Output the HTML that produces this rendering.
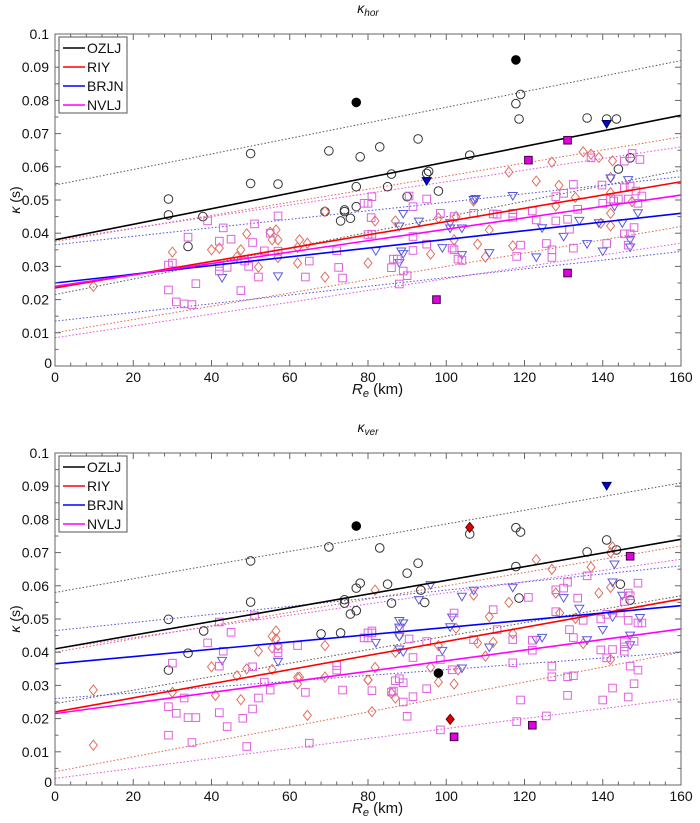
<!DOCTYPE html>
<html><head><meta charset="utf-8">
<style>
html,body{margin:0;padding:0;background:#fff;width:700px;height:823px;overflow:hidden}
svg text{font-family:"Liberation Sans",sans-serif;fill:#111}
</style></head>
<body>
<svg id="chart" width="700" height="823" viewBox="0 0 700 823" xmlns="http://www.w3.org/2000/svg"></svg>
<script>
// ---------- data ----------
const xTicks=[0,20,40,60,80,100,120,140,160];
const yTicks=[0,0.01,0.02,0.03,0.04,0.05,0.06,0.07,0.08,0.09,0.1];
const yTickLabels=["0","0.01","0.02","0.03","0.04","0.05","0.06","0.07","0.08","0.09","0.1"];
const seriesNames=["OZLJ","RIY","BRJN","NVLJ"];

// fit lines [kappa at R=0, kappa at R=160]
const horFit={OZLJ:[0.038,0.0755],RIY:[0.0235,0.0555],BRJN:[0.025,0.046],NVLJ:[0.024,0.0515]};
const horUpper={OZLJ:[0.0545,0.092],RIY:[0.0375,0.069],BRJN:[0.0365,0.057],NVLJ:[0.038,0.066]};
const horLower={OZLJ:[0.0215,0.059],RIY:[0.010,0.042],BRJN:[0.0135,0.0345],NVLJ:[0.0085,0.037]};
const verFit={OZLJ:[0.041,0.074],RIY:[0.022,0.056],BRJN:[0.0365,0.054],NVLJ:[0.0215,0.047]};
const verUpper={OZLJ:[0.058,0.091],RIY:[0.040,0.072],BRJN:[0.0465,0.066],NVLJ:[0.041,0.068]};
const verLower={OZLJ:[0.0245,0.057],RIY:[0.004,0.040],BRJN:[0.026,0.040],NVLJ:[0.002,0.026]};

// horizontal points [R, kappa]
const horOZLJ=[[29,0.0503],[29,0.0455],[34,0.036],[37.8,0.045],[50,0.064],[50,0.055],[57,0.0548],[70,0.0648],[78,0.063],[77,0.054],[77,0.048],[73,0.0437],[74,0.047],[74,0.0465],[75.5,0.0445],[69,0.0465],[83,0.066],[92.8,0.0684],[86,0.0578],[95,0.058],[95.5,0.0586],[85,0.054],[98,0.0527],[106,0.0635],[117.8,0.079],[119,0.0818],[118.6,0.0744],[136,0.0747],[141,0.0744],[143.5,0.0744],[147,0.0627],[144,0.0593],[90,0.051]];
const horOZLJfilled=[[77,0.0794],[117.8,0.0922]];
const horBRJN=[[42.7,0.0265],[57,0.027],[89,0.0458],[88,0.042],[82,0.0346],[88.5,0.0345],[89,0.0337],[88,0.031],[93,0.0435],[99,0.0355],[101,0.0414],[101,0.043],[104,0.0414],[104,0.0334],[107,0.05],[107.5,0.0503],[111,0.034],[117,0.0512],[124.5,0.0415],[123,0.0327],[130,0.0389],[134,0.0437],[136,0.0367],[139,0.043],[140,0.0345],[142,0.0565],[143,0.048],[145,0.043],[146.5,0.056],[147,0.038],[147,0.0357],[149,0.046]];
const horBRJNfilled=[[95,0.0557],[141,0.0729]];
const horRIY=[[9.8,0.024],[30,0.0343],[40,0.035],[42,0.0355],[49,0.0398],[47.5,0.035],[46.5,0.0329],[52,0.0298],[55,0.0403],[55.5,0.038],[56.5,0.041],[57,0.038],[57,0.0327],[62,0.031],[62.5,0.038],[62,0.0357],[64.5,0.037],[69,0.0268],[69,0.0465],[80,0.031],[81.8,0.0437],[87,0.0437],[96,0.0337],[98,0.0446],[102,0.038],[102.5,0.045],[107,0.0497],[108,0.0367],[110,0.0328],[111,0.041],[116,0.0584],[117,0.0362],[123,0.0557],[127,0.0614],[128,0.0482],[128.8,0.0544],[133,0.0508],[135,0.0645],[137,0.0638],[139,0.0628],[139.5,0.043],[142,0.0568],[142,0.0522],[142,0.0422],[142.5,0.0618],[142,0.046],[147.5,0.0495]];
const horRIYfilled=[];
const horNVLJ=[[29,0.0229],[29,0.0304],[30,0.031],[31,0.0193],[33,0.0187],[35,0.0185],[34,0.0388],[36,0.0248],[39,0.0437],[42,0.03],[42,0.0286],[43,0.0416],[42,0.0376],[44,0.0297],[45,0.0382],[47.5,0.0227],[48.5,0.0316],[49.5,0.03],[50.5,0.0372],[51,0.0428],[52,0.0268],[53.5,0.0347],[55,0.04],[57,0.0452],[57,0.0346],[64,0.0268],[65,0.0316],[72,0.0347],[72.5,0.0297],[73.5,0.0265],[80,0.049],[80.8,0.0447],[81,0.0397],[79,0.049],[81,0.051],[80,0.0396],[86.5,0.0322],[87.5,0.0322],[86,0.0296],[88,0.0247],[89,0.0286],[90,0.0272],[90.5,0.0512],[91.5,0.048],[91.5,0.039],[91.5,0.0348],[95,0.0503],[95,0.0367],[98.5,0.046],[101.5,0.0355],[102,0.035],[103,0.0322],[104,0.0318],[102,0.045],[107,0.046],[112,0.0458],[113,0.0457],[117,0.046],[117,0.0448],[118,0.033],[119,0.0364],[122,0.0467],[123,0.044],[125.6,0.0369],[127,0.035],[127,0.0327],[128,0.051],[128,0.0437],[130,0.052],[131,0.0442],[132.5,0.0547],[132.5,0.0355],[131.5,0.0412],[133.6,0.0472],[137,0.0627],[139.8,0.0545],[140,0.049],[141,0.0369],[142,0.0503],[142.8,0.0497],[144,0.0503],[145.5,0.0617],[147.5,0.064],[149.5,0.0622],[145.5,0.0537],[147,0.0542],[146.5,0.0503],[148.5,0.0527],[150,0.0512],[149,0.049],[148,0.0417],[145.5,0.0398],[147,0.0398],[146.5,0.0364]];
const horNVLJfilled=[[97.5,0.020],[131,0.068],[121,0.062],[131,0.028]];

// vertical points [R, kappa]
const verOZLJ=[[29,0.0499],[29,0.0346],[34,0.0397],[38,0.0464],[50,0.0675],[50,0.0551],[70,0.0717],[68,0.0455],[73,0.0458],[74,0.0548],[74,0.0558],[75.5,0.0515],[77,0.0525],[77,0.0593],[78,0.0608],[83,0.0714],[85,0.0605],[86,0.0548],[90,0.0638],[92.8,0.0668],[93.5,0.0587],[94.5,0.055],[106,0.0756],[117.8,0.0775],[119,0.0762],[117.8,0.0658],[118.6,0.0563],[136,0.0702],[141,0.0738],[143.5,0.0708],[144.5,0.0605],[147,0.0557]];
const verOZLJfilled=[[77,0.078],[98,0.0337]];
const verBRJN=[[42.7,0.0374],[57,0.0371],[88,0.0494],[89,0.0487],[88,0.0474],[88,0.0446],[82,0.0428],[88,0.0408],[89,0.04],[93,0.0557],[96,0.0602],[99,0.0404],[101,0.0475],[101.5,0.0504],[104,0.0351],[104,0.0567],[107,0.0585],[111,0.0414],[117,0.0594],[123,0.0437],[124.5,0.0443],[130,0.0563],[134,0.0531],[136,0.0436],[140,0.0467],[142.5,0.061],[143,0.0664],[142.5,0.0505],[145,0.057],[147,0.045],[147,0.0421],[149.5,0.0503]];
const verBRJNfilled=[[141,0.0901]];
const verRIY=[[9.8,0.0286],[9.8,0.012],[30,0.0279],[40,0.0356],[41,0.027],[46.5,0.0329],[47.5,0.0257],[49,0.035],[52,0.0403],[55.5,0.0448],[55.5,0.0413],[55.5,0.0348],[56.5,0.0464],[56.5,0.044],[57,0.042],[62,0.0304],[62,0.0324],[62.5,0.0325],[64.5,0.021],[69,0.042],[69,0.0325],[80,0.0317],[81.8,0.0587],[80,0.0316],[81.8,0.0354],[86,0.0276],[87,0.0262],[81,0.0221],[87,0.04],[88,0.045],[96,0.0355],[98,0.042],[98,0.031],[102,0.0304],[102.5,0.0472],[103,0.0347],[107,0.0572],[108,0.0428],[110,0.0388],[111,0.0507],[112,0.043],[116,0.055],[117,0.0456],[123,0.0679],[127,0.065],[128,0.0578],[129,0.0518],[133,0.0502],[135,0.0426],[137,0.0656],[139,0.0578],[142,0.0595],[142,0.07],[142.5,0.0717],[142,0.0378]];
const verRIYfilled=[[106,0.0776],[101,0.0198]];
const verNVLJ=[[29,0.0236],[29,0.015],[30,0.0367],[31,0.0216],[33,0.0262],[34,0.0203],[36,0.0203],[35,0.0128],[39,0.0428],[42,0.0491],[42,0.0358],[42,0.0218],[43,0.0403],[44,0.0176],[45,0.046],[48,0.0201],[49,0.0116],[50.5,0.0356],[50.5,0.0229],[51,0.051],[52,0.0262],[53.5,0.031],[55,0.0286],[57,0.0398],[57,0.0411],[62,0.042],[64,0.0279],[65,0.0126],[72,0.0346],[72,0.036],[73.5,0.0286],[80,0.0443],[81,0.0458],[81,0.0284],[79,0.0443],[80,0.0458],[81,0.0464],[86.5,0.0283],[86,0.028],[87,0.0314],[88,0.032],[88,0.0468],[89,0.0308],[89,0.025],[90,0.0207],[90.5,0.044],[91.5,0.0384],[91.5,0.0266],[95,0.0432],[95,0.029],[98.5,0.0378],[98.5,0.0166],[101.5,0.0347],[102,0.0518],[107,0.0438],[112,0.0528],[113,0.0468],[117,0.0438],[117,0.0368],[118,0.0191],[119,0.0256],[121,0.0565],[122,0.0436],[122,0.0406],[125.6,0.0208],[127,0.0358],[127,0.0326],[128,0.0588],[128,0.0522],[130,0.0593],[131,0.0611],[131,0.0326],[131,0.027],[131.5,0.0468],[132.5,0.0444],[132.5,0.0329],[133.6,0.0563],[135,0.0496],[136,0.063],[139.5,0.05],[139.5,0.0407],[140,0.0256],[141,0.0514],[141,0.0383],[142.5,0.0408],[142.5,0.0292],[144.5,0.0518],[145.5,0.0553],[145.5,0.0431],[145.5,0.0416],[145.5,0.0403],[146.5,0.0496],[146.5,0.0265],[146.5,0.0578],[147,0.057],[147,0.0358],[148,0.0433],[148,0.0305],[149,0.0346],[149,0.0488],[150,0.0488],[149,0.0608]];
const verNVLJfilled=[[147,0.0689],[102,0.0145],[122,0.018]];

// ---------- drawing ----------
const NS="http://www.w3.org/2000/svg";
const svg=document.getElementById('chart');
function mk(tag,attrs,parent){const e=document.createElementNS(NS,tag);for(const k in attrs)e.setAttribute(k,attrs[k]);(parent||svg).appendChild(e);return e;}

const lineCol={OZLJ:"#000",RIY:"#ff0000",BRJN:"#0000ff",NVLJ:"#ff00ff"};
const dotCol={OZLJ:"#555",RIY:"#e0604a",BRJN:"#5050e0",NVLJ:"#e050e0"};
const mkCol={OZLJ:"#333",RIY:"#e07060",BRJN:"#5a5ae0",NVLJ:"#e060e0"};
const fillCol={OZLJ:"#000",RIY:"#e00000",BRJN:"#0000d0",NVLJ:"#e000e0"};

function marker(g,name,cx,cy,filled){
  const stroke=filled?(name==="OZLJ"?"#000":"#400040"):mkCol[name];
  const fill=filled?fillCol[name]:"none";
  let el;
  if(name==="OZLJ"){el=mk('circle',{cx:cx,cy:cy,r:4.3,fill:fill,stroke:stroke,'stroke-width':1},g);}
  else if(name==="RIY"){el=mk('polygon',{points:`${cx},${cy-5} ${cx+4},${cy} ${cx},${cy+5} ${cx-4},${cy}`,fill:fill,stroke:filled?"#600":stroke,'stroke-width':1},g);}
  else if(name==="BRJN"){el=mk('polygon',{points:`${cx-4.5},${cy-3.5} ${cx+4.5},${cy-3.5} ${cx},${cy+4}`,fill:fill,stroke:filled?"#000060":stroke,'stroke-width':1},g);}
  else {el=mk('rect',{x:cx-3.8,y:cy-3.8,width:7.6,height:7.6,fill:fill,stroke:stroke,'stroke-width':1},g);}
  
  
}

function panel(p){
  const L=55,R=681,T=p.top,B=p.top+332;
  const X=v=>L+(v/160)*(R-L);
  const Y=v=>B-(v/0.1)*(B-T);
  const g=mk('g',{});
  
  
  // title
  const t=mk('text',{x:368,y:T-21,'font-size':14,'text-anchor':'middle','font-style':'italic'},g);
  
  
  t.innerHTML='κ<tspan font-size="10" dy="3">'+p.sub+'</tspan>';
  // clip
  const cp=mk('clipPath',{id:'clip'+p.id},g);mk('rect',{x:L,y:T,width:R-L,height:B-T},cp);
  const pg=mk('g',{'clip-path':'url(#clip'+p.id+')'},g);
  // band + fit lines
  seriesNames.forEach(n=>{
    [p.upper,p.lower].forEach((arr,i)=>{
      const l=mk('line',{x1:X(0),y1:Y(arr[n][0]),x2:X(160),y2:Y(arr[n][1]),stroke:dotCol[n],'stroke-width':1,'stroke-dasharray':'1.5,2'},pg);
      
      
    });
  });
  // points
  seriesNames.forEach(n=>{
    p.pts[n].forEach(d=>marker(pg,n,X(d[0]),Y(d[1]),false));
  });
  seriesNames.forEach(n=>{
    const l=mk('line',{x1:X(0),y1:Y(p.fit[n][0]),x2:X(160),y2:Y(p.fit[n][1]),stroke:lineCol[n],'stroke-width':1.6},pg);
    
    
  });
  seriesNames.forEach(n=>{
    p.filled[n].forEach(d=>marker(pg,n,X(d[0]),Y(d[1]),true));
  });
  // frame
  const fr=mk('rect',{x:L,y:T,width:R-L,height:B-T,fill:'none',stroke:'#666','stroke-width':1},g);
  
  
  // x ticks
  for(let v=0;v<=160;v+=4){
    const major=v%20===0, len=major?6:3.5;
    mk('line',{x1:X(v),y1:B,x2:X(v),y2:B-len,stroke:'#666'},g);
    mk('line',{x1:X(v),y1:T,x2:X(v),y2:T+len,stroke:'#666'},g);
  }
  xTicks.forEach(v=>{
    const tx=mk('text',{x:X(v),y:B+16,'font-size':14,'text-anchor':'middle'},g);
    
    
    tx.textContent=v;
  });
  // y ticks
  for(let i=0;i<=20;i++){
    const v=i*0.005, major=i%2===0, len=major?6:3.5;
    mk('line',{x1:L,y1:Y(v),x2:L+len,y2:Y(v),stroke:'#666'},g);
    mk('line',{x1:R,y1:Y(v),x2:R-len,y2:Y(v),stroke:'#666'},g);
  }
  yTicks.forEach((v,i)=>{
    const ty=mk('text',{x:i===0?52:49,y:Y(v)+(i===0?2:5),'font-size':14,'text-anchor':'end'},g);
    
    
    ty.textContent=yTickLabels[i];
  });
  // axis titles
  const xl=mk('text',{x:352,y:B+28,'font-size':15},g);
  
  
  xl.innerHTML='<tspan font-style="italic">R</tspan><tspan font-style="italic" font-size="11" dy="3">e</tspan><tspan dy="-3"> (km)</tspan>';
  const yl=mk('text',{x:0,y:0,'font-size':14,'text-anchor':'middle',transform:`translate(20,${(T+B)/2}) rotate(-90)`},g);
  
  
  yl.innerHTML='<tspan font-style="italic">κ</tspan> (s)';
  // legend
  const lg=mk('g',{},g);
  
  
  mk('rect',{x:59,y:T+3,width:68,height:76,fill:'#fff',stroke:'#555','stroke-width':1},lg);
  seriesNames.forEach((n,i)=>{
    const yy=T+14+i*19;
    const e=mk('g',{},lg);
    
    
    mk('line',{x1:63,y1:yy,x2:85,y2:yy,stroke:lineCol[n],'stroke-width':1.6},e);
    const tt=mk('text',{x:87,y:yy+5,'font-size':14},e);
    tt.textContent=n;
  });
}

panel({id:'hor',sub:'hor',top:34,fit:horFit,upper:horUpper,lower:horLower,
  pts:{OZLJ:horOZLJ,RIY:horRIY,BRJN:horBRJN,NVLJ:horNVLJ},
  filled:{OZLJ:horOZLJfilled,RIY:horRIYfilled,BRJN:horBRJNfilled,NVLJ:horNVLJfilled}});
panel({id:'ver',sub:'ver',top:453,fit:verFit,upper:verUpper,lower:verLower,
  pts:{OZLJ:verOZLJ,RIY:verRIY,BRJN:verBRJN,NVLJ:verNVLJ},
  filled:{OZLJ:verOZLJfilled,RIY:verRIYfilled,BRJN:verBRJNfilled,NVLJ:verNVLJfilled}});
</script>
</body></html>
